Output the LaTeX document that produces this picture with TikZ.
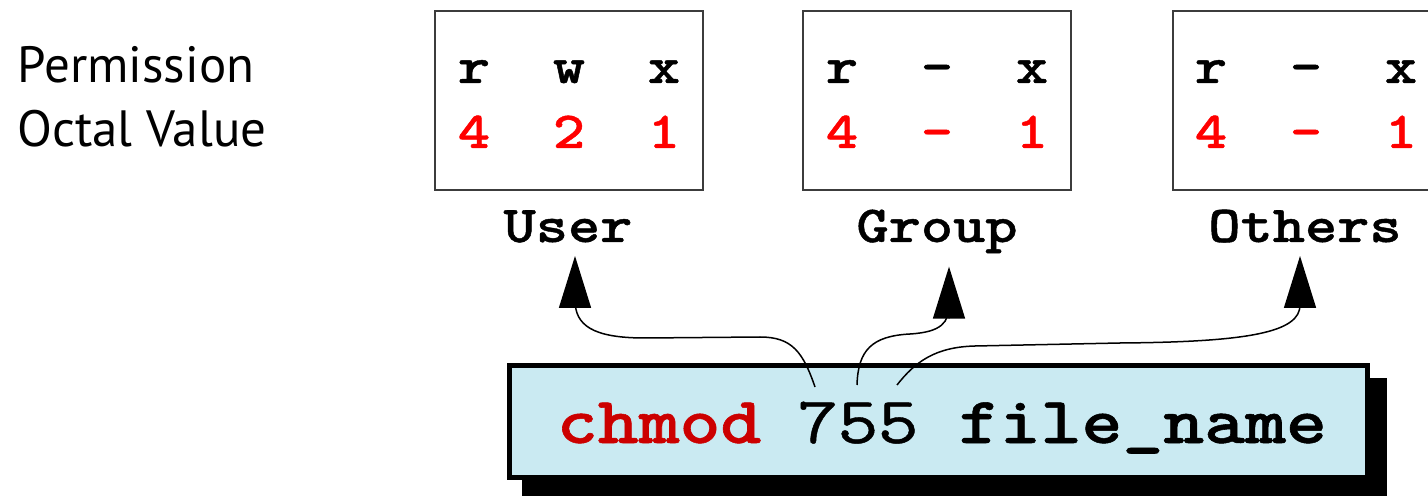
\documentclass[tikz,border=0pt]{standalone}
\usepackage{fontspec}
\usepackage{graphicx}
\setmainfont{PT Sans}
\newfontfamily\codebold{lmmonolt10-bold.otf}[FakeBold=0.8]
\newfontfamily\codereg{lmmono10-regular.otf}[FakeBold=0.6]
\usetikzlibrary{arrows.meta,calc}
\definecolor{cmdblue}{RGB}{202,234,242}
\definecolor{cmdred}{RGB}{204,0,0}
\definecolor{octred}{RGB}{255,0,0}
\definecolor{framegray}{RGB}{60,60,60}
% widen the typewriter glyphs a little
\newcommand\wide[1]{\scalebox{1.18}[1]{#1}}

\begin{document}
\begin{tikzpicture}[x=0.5pt,y=-0.5pt,
  permbox/.style={draw=framegray, line width=1pt, minimum width=134pt, minimum height=89.5pt, inner sep=0pt},
  bit/.style={font=\codebold\fontsize{26}{30}\selectfont, inner sep=0pt, anchor=base},
  oct/.style={bit, text=octred},
  who/.style={bit},
  cmd/.style={font=\codereg\fontsize{33}{36}\selectfont, inner sep=0pt, anchor=base},
  cmdbold/.style={cmd, font=\codebold\fontsize{33}{36}\selectfont},
  legend/.style={font=\fontsize{25.5}{32}\selectfont, inner sep=0pt, anchor=base west},
  link/.style={line width=0.75pt, -{Triangle[length=26pt,width=16pt]}},
]
\useasboundingbox (0,0) rectangle (1428,496);
\clip (0,0) rectangle (1428,496);

% row captions
\node[legend] (lperm) at (17,83) {Permission};
\node[legend] (loct) at (17,147) {Octal Value};

% permission boxes
\node[permbox] (ubox) at (569,100.5) {};
\node[permbox] (gbox) at (937,100.5) {};
\node[permbox] (obox) at (1307,100.5) {};

% user bits
\node[bit] (ur) at (474,83) {\wide{r}};
\node[bit] (uw) at (569,83) {\wide{w}};
\node[bit] (ux) at (664,83) {\wide{x}};
\node[oct] (u4) at (474,148) {\wide{4}};
\node[oct] (u2) at (569,148) {\wide{2}};
\node[oct] (u1) at (664,148) {\wide{1}};
% group bits
\node[bit] (gr) at (842,83) {\wide{r}};
\node[bit] (gw) at (937,83) {\wide{\textendash}};
\node[bit] (gx) at (1032,83) {\wide{x}};
\node[oct] (g4) at (842,148) {\wide{4}};
\node[oct] (g2) at (937,148) {\wide{\textendash}};
\node[oct] (g1) at (1032,148) {\wide{1}};
% others bits
\node[bit] (or) at (1211,83) {\wide{r}};
\node[bit] (ow) at (1306,83) {\wide{\textendash}};
\node[bit] (ox) at (1401,83) {\wide{x}};
\node[oct] (o4) at (1211,148) {\wide{4}};
\node[oct] (o2) at (1306,148) {\wide{\textendash}};
\node[oct] (o1) at (1401,148) {\wide{1}};

% class labels
\node[who] (user) at (568,242) {\wide{User}};
\node[who] (group) at (937,242) {\wide{Group}};
\node[who] (others) at (1305,242) {\wide{Others}};

% command box with solid shadow
\fill[black] (522,378) rectangle (1387,500);
\node[draw=black, fill=cmdblue, line width=2.5pt, minimum width=429pt, minimum height=56pt, inner sep=0pt] (cmdbox) at (938.5,421.5) {};

\node[cmdbold, anchor=base west, text=cmdred] (verb) at (556.5,443) {\wide{chmod}};
\node[cmd] (d7) at (817.8,443) {\wide{7}};
\node[cmd] (d5a) at (858,443) {\wide{5}};
\node[cmd] (d5b) at (898.2,443) {\wide{5}};
\node[cmdbold, anchor=base west] (fname) at (958.5,443) {\wide{file\_name}};

\coordinate (s7) at (815,387);
\coordinate (s5a) at (857,385);
\coordinate (s5b) at (897,385);

% links from the digits to their classes
\draw[link] (s7) .. controls (803,352) and (792,337) .. (760,337)
  -- (645,338) .. controls (592,338) and (575,325) .. (575,300)
  -- ($(user.south)+(7,13)$);
\draw[link] (s5a) .. controls (858,350) and (872,336) .. (910,334)
  .. controls (942,332) and (949,322) .. (949,305)
  -- ($(group.south)+(12,13)$);
\draw[link] (s5b) .. controls (915,362) and (935,347) .. (975,346)
  -- (1120,343) .. controls (1250,342) and (1300,332) .. (1300,305)
  -- ($(others.south)+(-5,13)$);
\end{tikzpicture}
\end{document}
